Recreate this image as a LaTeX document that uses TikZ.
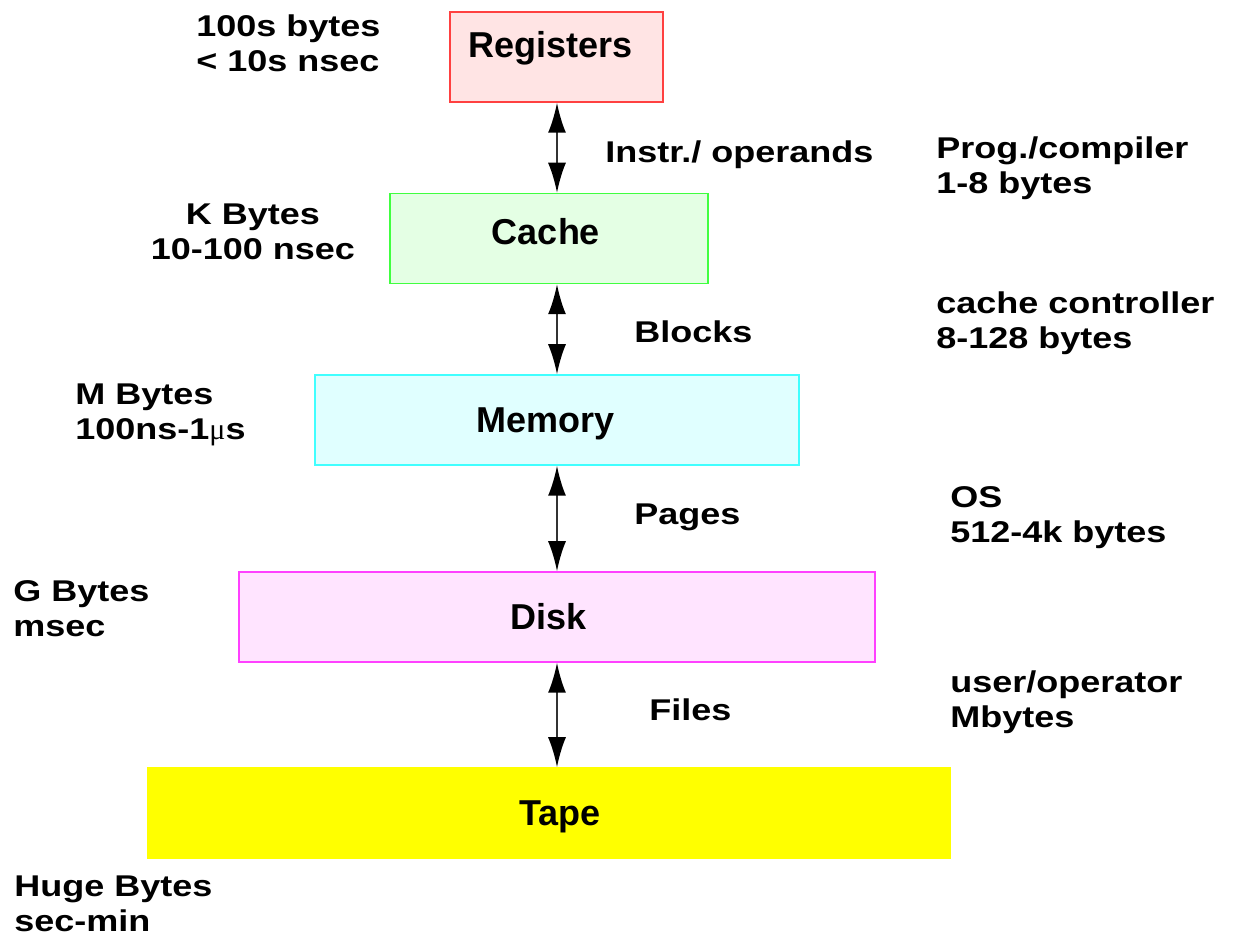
\documentclass[tikz,border=0pt]{standalone}
\usepackage{fontspec}
\setmainfont{Liberation Sans}
\newfontfamily\sidefont{Liberation Sans}[FakeStretch=1.2]
\newfontfamily\mufont{Liberation Serif}
\usetikzlibrary{arrows.meta}
\definecolor{regline}{HTML}{FF4040}\definecolor{regfill}{HTML}{FFE4E4}
\definecolor{cacline}{HTML}{40FF40}\definecolor{cacfill}{HTML}{E4FFE4}
\definecolor{memline}{HTML}{40FFFF}\definecolor{memfill}{HTML}{E0FFFF}
\definecolor{dskline}{HTML}{FF40FF}\definecolor{dskfill}{HTML}{FFE4FF}
\definecolor{tapefill}{HTML}{FFFF00}
\definecolor{arrowgray}{HTML}{333333}
\begin{document}
\begin{tikzpicture}[x=0.5pt,y=-0.5pt,
  levelbox/.style={draw, line width=0.75pt, inner sep=0pt, minimum height=45pt},
  boxtext/.style={anchor=base, inner sep=0pt, font=\fontsize{18pt}{21pt}\selectfont\bfseries},
  sidetext/.style={anchor=base west, inner sep=0pt, align=left, font=\sidefont\fontsize{15pt}{17.5pt}\selectfont\bfseries},
  link/.style={arrowgray, line width=1pt, {Latex[length=15pt,width=9pt,black]}-{Latex[length=15pt,width=9pt,black]}}]
\useasboundingbox (0,0) rectangle (1233,945);
% boxes
\node[levelbox, draw=regline, fill=regfill, minimum width=106.5pt] (reg) at (556.5,57) {};
\node[levelbox, draw=cacline, fill=cacfill, minimum width=159pt] (cac) at (549,238.5) {};
\node[levelbox, draw=memline, fill=memfill, minimum width=242pt] (mem) at (557,420) {};
\node[levelbox, draw=dskline, fill=dskfill, minimum width=318pt] (dsk) at (557,617) {};
\node[levelbox, draw=tapefill, fill=tapefill, minimum width=401pt] (tap) at (549,813) {};
% box labels
\node[boxtext] (regT) at (550.5,58) {Registers};
\node[boxtext] (cacT) at (546,245) {Cache};
\node[boxtext] (memT) at (546,433) {Memory};
\node[boxtext] (dskT) at (549,630) {Disk};
\node[boxtext] (tapT) at (560,826) {Tape};
% connectors
\coordinate (a1) at (557,0);
\draw[link] (reg.south -| a1) -- (cac.north -| a1);
\draw[link] (cac.south -| a1) -- (mem.north -| a1);
\draw[link] (mem.south -| a1) -- (dsk.north -| a1);
\draw[link] (dsk.south -| a1) -- (tap.north -| a1);
% connector labels
\node[sidetext] (l1) at (605,163) {Instr./ operands};
\node[sidetext] (l2) at (634,343) {Blocks};
\node[sidetext] (l3) at (634,525) {Pages};
\node[sidetext] (l4) at (649,721) {Files};
% left labels (anchor = baseline of the last line)
\node[sidetext] (s1) at (196,72) {100s bytes\\< 10s nsec};
\node[sidetext, anchor=base, align=center] (s2) at (253,260) {K Bytes\\10-100 nsec};
\node[sidetext] (s3) at (75,440) {M Bytes\\100ns-1{\mufont\mdseries μ}s};
\node[sidetext] (s4) at (13,637) {G Bytes\\msec};
\node[sidetext] (s5) at (14,932) {Huge Bytes\\sec-min};
% right labels
\node[sidetext] (r1) at (936,194) {Prog./compiler\\1-8 bytes};
\node[sidetext] (r2) at (936,349) {cache controller\\8-128 bytes};
\node[sidetext] (r3) at (950,543) {OS\\512-4k bytes};
\node[sidetext] (r4) at (950,728) {user/operator\\Mbytes};
\end{tikzpicture}
\end{document}
